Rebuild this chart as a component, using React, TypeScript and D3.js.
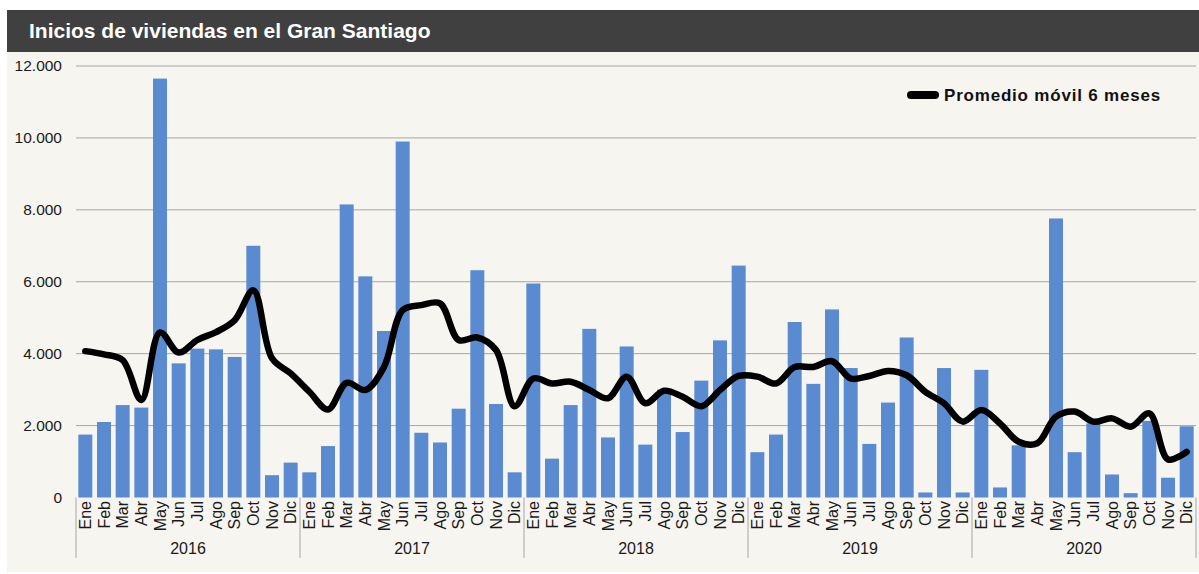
import * as d3 from 'd3';

const years = ['2016', '2017', '2018', '2019', '2020'];
const monthNames = ['Ene', 'Feb', 'Mar', 'Abr', 'May', 'Jun', 'Jul', 'Ago', 'Sep', 'Oct', 'Nov', 'Dic'];

// inicios mensuales, 2016..2020
const starts = [
    1750, 2100, 2570, 2500, 11650, 3730, 4140, 4120, 3910, 7000, 620, 970,
    700, 1430, 8150, 6150, 4630, 9900, 1800, 1530, 2470, 6320, 2600, 700,
    5950, 1080, 2570, 4690, 1670, 4200, 1470, 3000, 1820, 3250, 4370, 6450,
    1260, 1750, 4880, 3160, 5230, 3600, 1490, 2640, 4450, 140, 3600, 140,
    3550, 280, 1450, 0, 7760, 1260, 2060, 640, 120, 2130, 550, 1980,
];

// promedio móvil 6 meses
const movingAvg = [
    4070, 3980, 3820, 2710, 4590, 4030, 4380, 4600, 4930, 5760, 3870, 3450,
    2940, 2450, 3190, 2990, 3630, 5210, 5350, 5400, 4380, 4450, 4100, 2540,
    3310, 3170, 3220, 2990, 2760, 3360, 2620, 2970, 2800, 2540, 2990, 3380,
    3360, 3170, 3630, 3630, 3790, 3310, 3380, 3520, 3400, 2940, 2620, 2110,
    2430, 2060, 1550, 1510, 2250, 2390, 2110, 2200, 1970, 2340, 1060, 1270,
];

const yTicks = [0, 2000, 4000, 6000, 8000, 10000, 12000];

const W = 1199;
const H = 574;
const font = '"Liberation Sans", Arial, sans-serif';

export default function App() {
    const keys = years.flatMap((y) => monthNames.map((m) => `${y}-${m}`));

    const x = d3.scaleBand<string>().domain(keys).range([76, 1196]).paddingInner(0.25).paddingOuter(0.125);
    const y = d3.scaleLinear().domain([0, 12000]).range([497.5, 66]);
    const fmt = (v: number) => d3.format(',')(v).replace(/,/g, '.');

    const line = d3
        .line<number>()
        .x((_, i) => x(keys[i])! + x.bandwidth() / 2)
        .y((d) => y(d))
        .curve(d3.curveCatmullRom.alpha(0.5));

    const step = x.step();

    return (
        <div style={{ position: 'absolute', left: 0, top: 0 }}>
            <svg width={W} height={H} style={{ display: 'block', fontFamily: font }}>
                <rect x={0} y={0} width={W} height={H} fill="#ffffff" />
                <rect x={7} y={52} width={W - 7} height={H - 52 - 2} fill="#f6f5f0" />
                <rect x={7} y={10} width={W - 7} height={42} fill="#404040" />
                <text x={29} y={38} fill="#ffffff" fontSize={21} fontWeight="bold">
                    Inicios de viviendas en el Gran Santiago
                </text>

                {/* grid + eje y */}
                {yTicks.map((t) => (
                    <g key={t}>
                        {t > 0 && <line x1={76} x2={1196} y1={y(t)} y2={y(t)} stroke="#a6a6a6" strokeWidth={1} />}
                        <text x={62} y={y(t)} dy="0.35em" textAnchor="end" fontSize={15.5} fill="#1a1a1a">
                            {fmt(t)}
                        </text>
                    </g>
                ))}

                {/* barras */}
                {starts.map((v, i) => (
                    <rect
                        key={keys[i]}
                        x={x(keys[i])}
                        y={y(v)}
                        width={x.bandwidth()}
                        height={y(0) - y(v)}
                        fill="#5a8ad0"
                    />
                ))}

                <path d={line(movingAvg) ?? ''} fill="none" stroke="#000" strokeWidth={6.5} strokeLinejoin="round" strokeLinecap="round" />

                {/* eje x: meses y años */}
                {keys.map((k, i) => (
                    <text
                        key={k}
                        transform={`translate(${x(k)! + x.bandwidth() / 2},${501}) rotate(-90)`}
                        dy="0.35em"
                        textAnchor="end"
                        fontSize={16}
                        fill="#1a1a1a"
                    >
                        {monthNames[i % 12]}
                    </text>
                ))}
                {d3.range(years.length + 1).map((j) => (
                    <line
                        key={j}
                        x1={76 + j * 12 * step}
                        x2={76 + j * 12 * step}
                        y1={497.5}
                        y2={558}
                        stroke="#a6a6a6"
                        strokeWidth={1}
                    />
                ))}
                {years.map((yr, j) => (
                    <text key={yr} x={76 + (j + 0.5) * 12 * step} y={554} textAnchor="middle" fontSize={16} fill="#1a1a1a">
                        {yr}
                    </text>
                ))}

                {/* leyenda */}
                <line x1={911} x2={935} y1={95} y2={95} stroke="#000" strokeWidth={8} strokeLinecap="round" />
                <text x={944} y={101} fontSize={17} fontWeight="bold" letterSpacing={0.8} fill="#111">
                    Promedio móvil 6 meses
                </text>
            </svg>
        </div>
    );
}
